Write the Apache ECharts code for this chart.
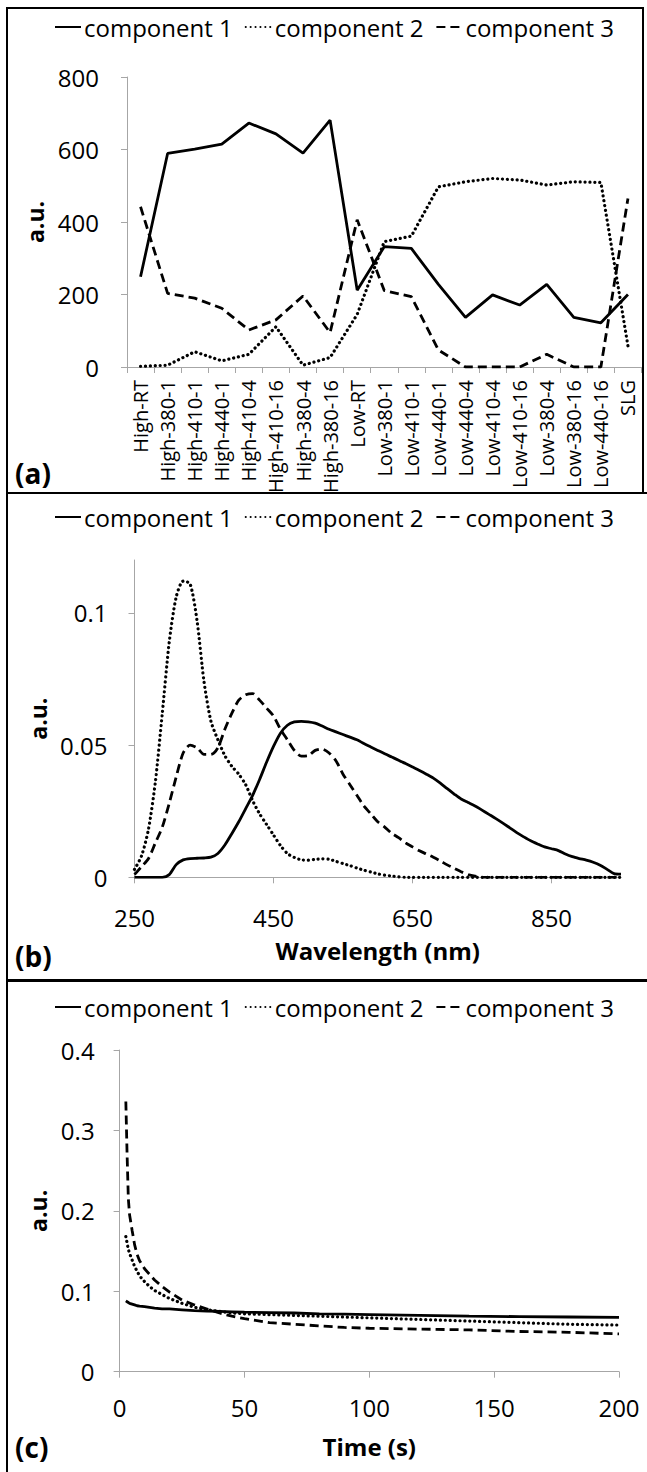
<!DOCTYPE html>
<html>
<head>
<meta charset="utf-8">
<script src="https://cdn.jsdelivr.net/npm/echarts@6/dist/echarts.min.js"></script>
<style>
html,body{margin:0;padding:0;background:#ffffff;}
#chart{width:647px;height:1472px;}
</style>
</head>
<body>
<div id="chart"></div>
<script>
// ---------- Panel (a) ----------
const categoriesA = ['High-RT','High-380-1','High-410-1','High-440-1','High-410-4','High-410-16','High-380-4','High-380-16','Low-RT','Low-380-1','Low-410-1','Low-440-1','Low-440-4','Low-410-4','Low-410-16','Low-380-4','Low-380-16','Low-440-16','SLG'];
const comp1A = [249, 589, 601, 615, 673, 643, 590, 681, 212, 332, 327, 228, 137, 199, 171, 228, 137, 122, 200];
const comp2A = [2, 5, 42, 17, 35, 111, 5, 26, 145, 346, 361, 497, 511, 520, 516, 502, 511, 509, 58];
const comp3A = [442, 203, 190, 162, 102, 130, 196, 95, 406, 211, 194, 47, 0, 0, 0, 35, 0, 0, 465];
const yTicksA = [0, 200, 400, 600, 800];

// ---------- Panel (b) ----------
const wavelengthB = [250,260,270,280,290,300,310,320,330,340,350,360,370,380,390,400,410,420,430,440,450,460,470,480,490,500,510,520,530,540,550,560,570,580,590,600,610,620,630,640,650,660,670,680,690,700,710,720,730,740,750,760,770,780,790,800,810,820,830,840,850,860,870,880,890,900,910,920,930,940,950];
const comp1B = [0,0,0,0,0,0.001,0.0048,0.0066,0.0071,0.0072,0.0073,0.0076,0.009,0.0122,0.0165,0.021,0.026,0.031,0.037,0.0435,0.0495,0.0545,0.0575,0.0588,0.059,0.0588,0.0583,0.0572,0.056,0.055,0.054,0.053,0.052,0.0506,0.0493,0.048,0.0467,0.0455,0.0443,0.043,0.0417,0.0404,0.039,0.0375,0.0356,0.0335,0.0315,0.0296,0.0283,0.027,0.0254,0.0238,0.0222,0.0205,0.0187,0.0169,0.0153,0.0138,0.0126,0.0115,0.0108,0.0101,0.0088,0.0078,0.0071,0.0065,0.0057,0.0046,0.003,0.0014,0.0012];
const comp2B = [0.003,0.008,0.018,0.036,0.062,0.089,0.106,0.112,0.111,0.097,0.074,0.059,0.052,0.046,0.042,0.039,0.035,0.029,0.024,0.020,0.016,0.012,0.009,0.0075,0.0066,0.0065,0.0068,0.007,0.0068,0.006,0.0052,0.0044,0.0035,0.0027,0.002,0.0013,0.0008,0.0005,0.0002,0,0,0,0,0,0,0,0,0,0,0,0,0,0,0,0,0,0,0,0,0,0,0,0,0,0,0,0,0,0,0,0];
const comp3B = [0.001,0.004,0.007,0.013,0.019,0.028,0.038,0.047,0.050,0.049,0.0465,0.0465,0.049,0.056,0.062,0.067,0.069,0.0695,0.067,0.064,0.061,0.056,0.052,0.048,0.0458,0.046,0.048,0.0485,0.047,0.044,0.039,0.035,0.031,0.027,0.024,0.021,0.019,0.0167,0.015,0.013,0.0115,0.010,0.0088,0.0076,0.0062,0.0047,0.0034,0.0021,0.001,0.0004,0.0001,0,0,0,0,0,0,0,0,0,0,0,0,0,0,0,0,0,0,0,0];
const xTicksB = [250, 450, 650, 850];
const yTicksB = [0, 0.05, 0.1];

// ---------- Panel (c) ----------
const timeC = [2.5,3,3.5,4,5,6,7,8,10,12,14,17,20,25,30,35,40,45,50,60,70,80,90,100,120,140,160,180,200];
const comp1C = [0.088,0.087,0.086,0.085,0.084,0.083,0.082,0.0815,0.081,0.080,0.079,0.078,0.078,0.077,0.076,0.0755,0.075,0.0745,0.074,0.0735,0.073,0.072,0.0715,0.071,0.070,0.069,0.0685,0.068,0.0675];
const comp2C = [0.168,0.16,0.152,0.147,0.139,0.131,0.125,0.119,0.112,0.106,0.101,0.096,0.091,0.085,0.080,0.077,0.075,0.073,0.072,0.071,0.070,0.069,0.068,0.067,0.065,0.063,0.061,0.059,0.058];
const comp3C = [0.336,0.27,0.215,0.195,0.176,0.158,0.146,0.138,0.128,0.121,0.114,0.106,0.099,0.089,0.083,0.078,0.073,0.069,0.066,0.061,0.059,0.057,0.055,0.054,0.053,0.052,0.050,0.049,0.047];
const xTicksC = [0, 50, 100, 150, 200];
const yTicksC = [0, 0.1, 0.2, 0.3, 0.4];

const seriesNames = ['component 1', 'component 2', 'component 3'];
const panelLabels = ['(a)', '(b)', '(c)'];

// ---------- styles ----------
const FONT = 'Open Sans';
const AXIS_GRAY = '#a6a6a6';
const TEXT = '#000000';
const lineStyles = [
  { color: '#000', width: 2.8, type: 'solid', cap: 'butt' },
  { color: '#000', width: 3.2, type: [0.1, 4.8], cap: 'round' },
  { color: '#000', width: 2.8, type: [9, 5], cap: 'butt' }
];

function zip(xs, ys) { return xs.map((x, i) => [x, ys[i]]); }

function legendAt(top) {
  return {
    top: top, left: 49, orient: 'horizontal',
    itemWidth: 26, itemHeight: 14, itemGap: 12,
    data: seriesNames,
    selectedMode: false,
    textStyle: { fontFamily: FONT, fontSize: 24, color: TEXT, lineHeight: 24, padding: [0, 0, 0, -2] },
    itemStyle: { opacity: 0 }
  };
}

function valueAxisY(gridIndex, min, max, interval, ticks, margin, nameGap) {
  return {
    type: 'value', gridIndex: gridIndex, min: min, max: max, interval: interval,
    axisLine: { show: true, lineStyle: { color: AXIS_GRAY, width: 1 } },
    axisTick: { show: true, length: 6, lineStyle: { color: AXIS_GRAY }, customValues: ticks },
    axisLabel: { show: true, margin: margin, fontFamily: FONT, fontSize: 24, color: TEXT, customValues: ticks },
    splitLine: { show: false },
    name: 'a.u.', nameLocation: 'middle', nameRotate: 90, nameGap: nameGap,
    nameTextStyle: { fontFamily: FONT, fontSize: 23, fontWeight: 'bold', color: TEXT }
  };
}

function lineSeries(name, idx, xAxisIndex, yAxisIndex, data, smooth) {
  return {
    type: 'line', name: name, xAxisIndex: xAxisIndex, yAxisIndex: yAxisIndex,
    data: data, symbol: 'none', showSymbol: false, smooth: smooth,
    lineStyle: lineStyles[idx], itemStyle: { color: '#000' },
    animation: false, z: 3 - idx
  };
}

const option = {
  backgroundColor: '#ffffff',
  animation: false,
  legend: [legendAt(10), legendAt(500), legendAt(990)],
  grid: [
    { left: 127, top: 77, width: 514.5, height: 290, containLabel: false, outerBoundsMode: 'none' },
    { left: 134.5, top: 560, width: 486.5, height: 317.3, containLabel: false, outerBoundsMode: 'none' },
    { left: 119.6, top: 1050, width: 499.4, height: 321.7, containLabel: false, outerBoundsMode: 'none' }
  ],
  xAxis: [
    {
      type: 'category', gridIndex: 0, data: categoriesA, boundaryGap: true,
      axisLine: { show: true, lineStyle: { color: AXIS_GRAY, width: 1 } },
      axisTick: { show: true, length: 6, interval: 0, alignWithLabel: false, lineStyle: { color: AXIS_GRAY } },
      axisLabel: { rotate: 90, interval: 0, margin: 13, fontFamily: FONT, fontSize: 20, color: TEXT },
      splitLine: { show: false }
    },
    {
      type: 'value', gridIndex: 1, min: 250, max: 950, interval: 200,
      axisLine: { show: true, lineStyle: { color: AXIS_GRAY, width: 1 } },
      axisTick: { show: true, length: 6, lineStyle: { color: AXIS_GRAY }, customValues: xTicksB },
      axisLabel: { margin: 28, fontFamily: FONT, fontSize: 24, color: TEXT, customValues: xTicksB },
      splitLine: { show: false },
      name: 'Wavelength (nm)', nameLocation: 'middle', nameGap: 61,
      nameTextStyle: { fontFamily: FONT, fontSize: 24, fontWeight: 'bold', color: TEXT }
    },
    {
      type: 'value', gridIndex: 2, min: 0, max: 200, interval: 50,
      axisLine: { show: true, lineStyle: { color: AXIS_GRAY, width: 1 } },
      axisTick: { show: true, length: 6, lineStyle: { color: AXIS_GRAY }, customValues: xTicksC },
      axisLabel: { margin: 24, fontFamily: FONT, fontSize: 24, color: TEXT, customValues: xTicksC },
      splitLine: { show: false },
      name: 'Time (s)', nameLocation: 'middle', nameGap: 63,
      nameTextStyle: { fontFamily: FONT, fontSize: 24, fontWeight: 'bold', color: TEXT }
    }
  ],
  yAxis: [
    valueAxisY(0, 0, 800, 200, yTicksA, 28, 75),
    valueAxisY(1, 0, 0.12, 0.05, yTicksB, 27, 82),
    valueAxisY(2, 0, 0.4, 0.1, yTicksC, 25, 67)
  ],
  series: [
    lineSeries(seriesNames[0], 0, 0, 0, comp1A, false),
    lineSeries(seriesNames[1], 1, 0, 0, comp2A, false),
    lineSeries(seriesNames[2], 2, 0, 0, comp3A, false),
    lineSeries(seriesNames[0], 0, 1, 1, zip(wavelengthB, comp1B), 0.25),
    lineSeries(seriesNames[1], 1, 1, 1, zip(wavelengthB, comp2B), 0.25),
    lineSeries(seriesNames[2], 2, 1, 1, zip(wavelengthB, comp3B), 0.25),
    lineSeries(seriesNames[0], 0, 2, 2, zip(timeC, comp1C), false),
    lineSeries(seriesNames[1], 1, 2, 2, zip(timeC, comp2C), false),
    lineSeries(seriesNames[2], 2, 2, 2, zip(timeC, comp3C), false)
  ],
  graphic: [
    { type: 'rect', shape: { x: 7, y: 8, width: 636, height: 485 }, style: { fill: 'none', stroke: '#000', lineWidth: 2 }, silent: true },
    { type: 'rect', shape: { x: 7, y: 493, width: 660, height: 487 }, style: { fill: 'none', stroke: '#000', lineWidth: 2 }, silent: true },
    { type: 'rect', shape: { x: 7, y: 981, width: 660, height: 520 }, style: { fill: 'none', stroke: '#000', lineWidth: 2 }, silent: true },
    { type: 'text', left: 15, top: 459, style: { text: panelLabels[0], font: 'bold 28px "Open Sans"', fill: TEXT } },
    { type: 'text', left: 15, top: 942, style: { text: panelLabels[1], font: 'bold 28px "Open Sans"', fill: TEXT } },
    { type: 'text', left: 15, top: 1433, style: { text: panelLabels[2], font: 'bold 28px "Open Sans"', fill: TEXT } }
  ]
};

const chart = echarts.init(document.getElementById('chart'), null, { renderer: 'svg', width: 647, height: 1472 });
chart.setOption(option);
</script>
</body>
</html>
